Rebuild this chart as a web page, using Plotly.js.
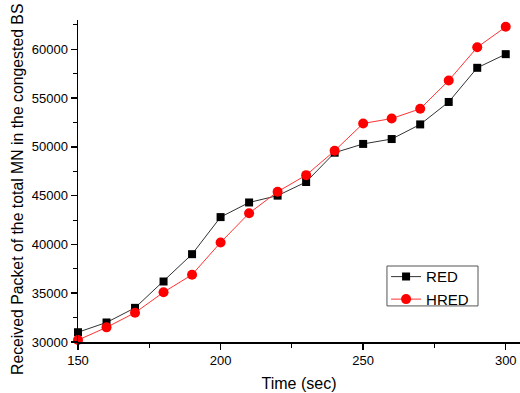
<!DOCTYPE html>
<html>
<head>
<meta charset="utf-8">
<script src="https://cdn.plot.ly/plotly-3.0.1.min.js"></script>
<style>html,body{margin:0;padding:0;background:#fff;}#chart{width:520px;height:393px;}</style>
</head>
<body>
<div id="chart"></div>
<script>
const timeSec = [150,160,170,180,190,200,210,220,230,240,250,260,270,280,290,300];
const redValues = [31000,32000,33500,36200,39000,42800,44300,45000,46400,49400,50300,50800,52300,54600,58100,59500];
const hredValues = [30200,31500,33000,35100,36900,40200,43200,45400,47100,49600,52400,52900,53900,56800,60200,62300];
const seriesNames = ['RED','HRED'];
const xTitle = 'Time (sec)';
const yTitle = 'Received Packet of the total MN in the congested BS';

const font = 'Liberation Sans, Arial, sans-serif';
const traces = [
  {x: timeSec, y: redValues, name: seriesNames[0], mode: 'lines+markers', cliponaxis: false,
   line: {color: '#333333', width: 1}, marker: {symbol: 'square', size: 8, color: '#000000'}},
  {x: timeSec, y: hredValues, name: seriesNames[1], mode: 'lines+markers', cliponaxis: false,
   line: {color: '#ff3333', width: 1}, marker: {symbol: 'circle', size: 10, color: '#ff0000'}}
];
const layout = {
  width: 520, height: 393,
  margin: {l: 78, r: 0, t: 20, b: 51},
  paper_bgcolor: '#fff', plot_bgcolor: '#fff',
  font: {family: font, color: '#000', size: 13},
  showlegend: true,
  legend: {x: 0.697, y: 0.2535, xanchor: 'left', yanchor: 'top', borderwidth: 0,
           bgcolor: 'rgba(0,0,0,0)', font: {size: 15, family: font}, tracegroupgap: 0, itemwidth: 30},
  shapes: [{type: 'rect', xref: 'paper', yref: 'paper', x0: 0.699, x1: 0.905, y0: 0.112, y1: 0.236,
            line: {color: '#555', width: 1}, fillcolor: '#fff', layer: 'above'}],
  annotations: [{text: yTitle, textangle: -90, xref: 'paper', yref: 'paper', x: -0.138, y: 0.472,
                 xanchor: 'center', yanchor: 'middle', showarrow: false, font: {size: 15.8, family: font}}],
  xaxis: {range: [150, 305], showgrid: false, zeroline: false, showline: true, linecolor: '#000', linewidth: 1.5,
          ticks: 'outside', ticklen: 6, tickwidth: 1.5, tickcolor: '#000', dtick: 50, tick0: 150, tickformat: 'd',
          minor: {dtick: 25, ticks: 'outside', ticklen: 4, tickcolor: '#000', tickwidth: 1},
          tickfont: {size: 13}, title: {text: xTitle, font: {size: 16}, standoff: 10}},
  yaxis: {range: [30000, 63000], showgrid: false, zeroline: false, showline: true, linecolor: '#000', linewidth: 1.5,
          ticks: 'outside', ticklen: 6, tickwidth: 1.5, tickcolor: '#000', dtick: 5000, tick0: 30000, tickformat: 'd',
          minor: {dtick: 2500, ticks: 'outside', ticklen: 4, tickcolor: '#000', tickwidth: 1},
          tickfont: {size: 13}}
};
Plotly.newPlot('chart', traces, layout, {displayModeBar: false, staticPlot: true});
</script>
</body>
</html>
